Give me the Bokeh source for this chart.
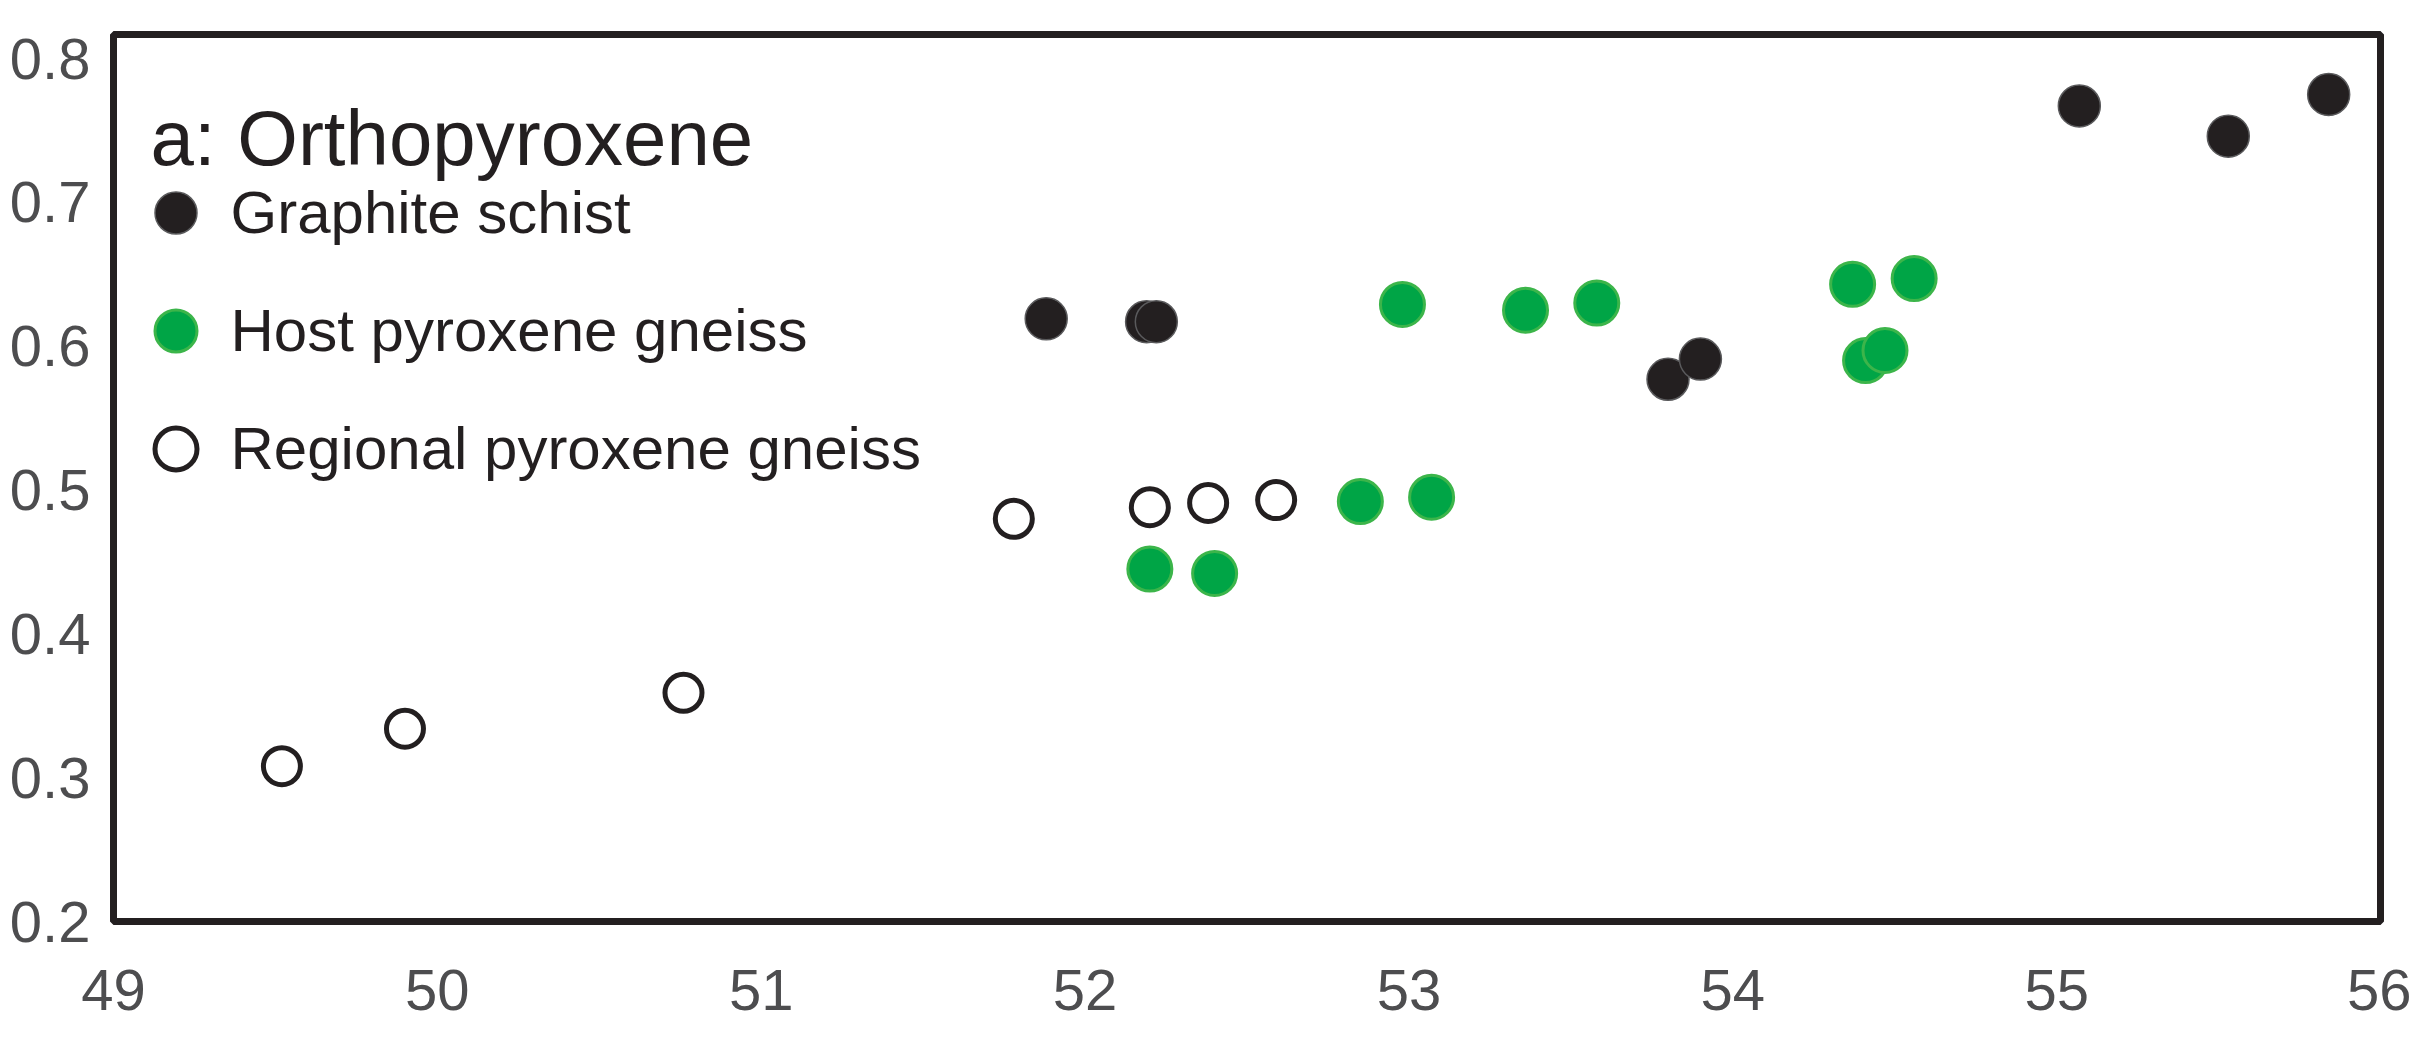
from bokeh.plotting import figure
from bokeh.models import Legend, LegendItem, Label, FixedTicker, Range1d
from bokeh.embed import file_html
from bokeh.resources import INLINE

# ---- data (x vs. y) ----
graphite_x = [51.88, 52.19, 52.22, 53.80, 53.90, 55.07, 55.53, 55.84]
graphite_y = [0.619, 0.617, 0.617, 0.577, 0.591, 0.767, 0.746, 0.775]

host_x = [52.20, 52.40, 52.85, 53.07, 52.98, 53.36, 53.58, 54.37, 54.56, 54.41, 54.47]
host_y = [0.445, 0.442, 0.492, 0.495, 0.629, 0.625, 0.630, 0.643, 0.647, 0.590, 0.597]

regional_x = [49.52, 49.90, 50.76, 51.78, 52.20, 52.38, 52.59]
regional_y = [0.308, 0.334, 0.359, 0.480, 0.488, 0.491, 0.493]

x_ticks = [49, 50, 51, 52, 53, 54, 55, 56]
y_ticks = [0.2, 0.3, 0.4, 0.5, 0.6, 0.7, 0.8]

panel_title = "a: Orthopyroxene"
series_labels = ["Graphite schist", "Host pyroxene gneiss", "Regional pyroxene gneiss"]

# ---- layout / style ----
W, H = 2411, 1056
B_LEFT, B_TOP, B_RIGHT, B_BOTTOM = 113, 34, 31, 135
DARK = "#231f20"
TICK_GREY = "#4d4d4f"
FONT = "Liberation Sans"

p = figure(width=W, height=H, output_backend="svg", toolbar_location=None,
           x_range=Range1d(49, 56), y_range=Range1d(0.2, 0.8167),
           min_border_left=B_LEFT, min_border_top=B_TOP,
           min_border_right=B_RIGHT, min_border_bottom=B_BOTTOM,
           background_fill_color="white", border_fill_color="white")

p.outline_line_color = DARK
p.outline_line_width = 7
p.xgrid.visible = False
p.ygrid.visible = False

for ax in (p.xaxis[0], p.yaxis[0]):
    ax.axis_line_color = None
    ax.major_tick_line_color = None
    ax.minor_tick_line_color = None
    ax.major_tick_out = 0
    ax.major_tick_in = 0
    ax.major_label_text_color = TICK_GREY
    ax.major_label_text_font = FONT
    ax.major_label_text_font_size = "58px"

p.xaxis[0].ticker = FixedTicker(ticks=x_ticks)
p.yaxis[0].ticker = FixedTicker(ticks=y_ticks)
p.xaxis[0].major_label_standoff = 48
p.yaxis[0].major_label_standoff = 23

r_graphite = p.scatter(graphite_x, graphite_y, size=42, fill_color=DARK,
                       line_color="#5a5a5c", line_width=1.5)
r_host = p.scatter(host_x, host_y, size=44, fill_color="#00a546",
                   line_color="#3cb54a", line_width=3)
r_regional = p.scatter(regional_x, regional_y, size=37, fill_color="white",
                       line_color=DARK, line_width=5)

GLYPH = 105
SPACING = 13
legend_h = 3 * GLYPH + 2 * SPACING
frame_h = H - B_TOP - B_BOTTOM
first_glyph_top = 125.5  # px below frame top
legend = Legend(
    items=[LegendItem(label=series_labels[0], renderers=[r_graphite]),
           LegendItem(label=series_labels[1], renderers=[r_host]),
           LegendItem(label=series_labels[2], renderers=[r_regional])],
    location=(9.5, frame_h - first_glyph_top - legend_h),
    glyph_width=GLYPH, glyph_height=GLYPH, spacing=SPACING,
    label_standoff=3, padding=0, margin=0,
    label_text_font=FONT, label_text_font_size="60px",
    label_text_color=DARK,
    background_fill_alpha=0, border_line_alpha=0)
p.add_layout(legend)

title = Label(x=37, y=frame_h - 103, x_units="screen", y_units="screen",
              text=panel_title, text_font=FONT, text_font_size="78px",
              text_color=DARK, text_align="left", text_baseline="alphabetic")
p.add_layout(title)

open("out.html", "w").write(file_html(p, INLINE))
